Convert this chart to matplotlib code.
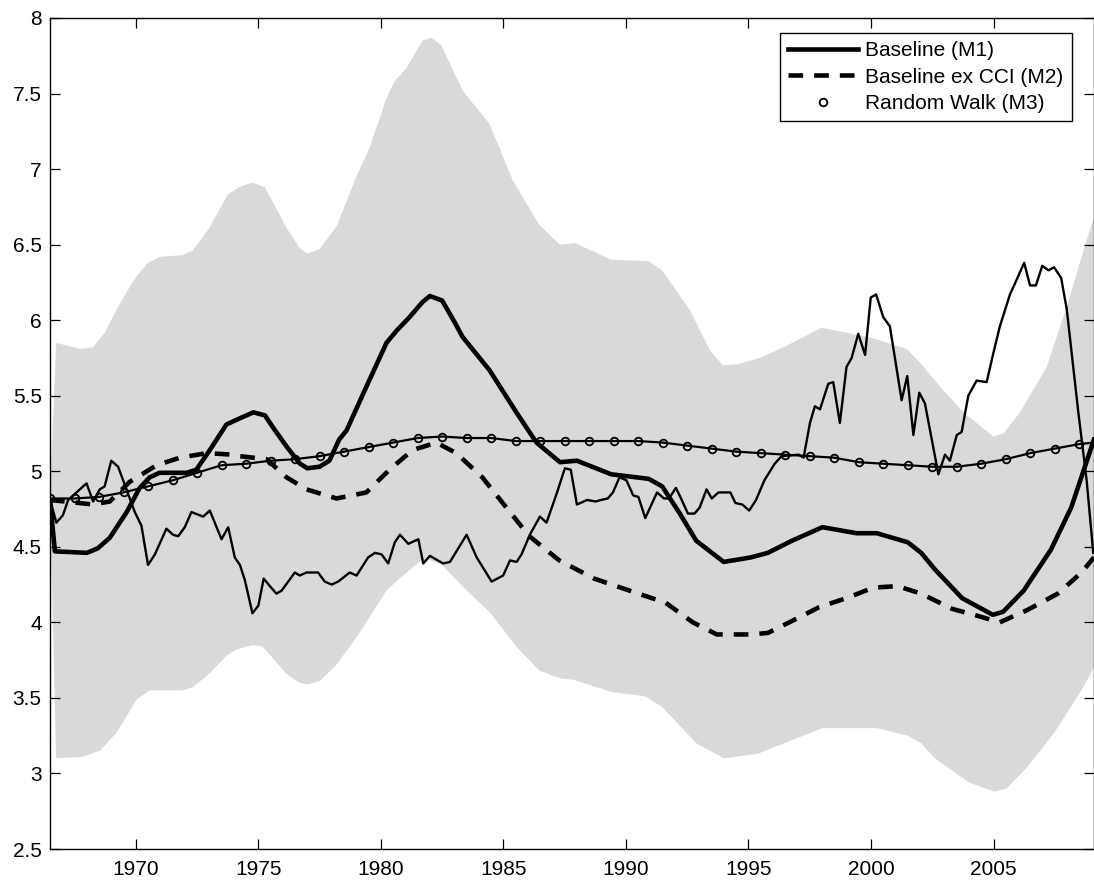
import matplotlib
matplotlib.use("Agg")
import matplotlib.pyplot as plt
import numpy as np

# ---------------- data ----------------
band_upper_t = [1966.50, 1966.75, 1967.25, 1967.75, 1968.25, 1968.75, 1969.25, 1969.75,
                1970.08, 1970.5, 1971.0, 1971.9, 1972.32, 1973.0, 1973.75, 1974.2, 1974.77,
                1975.26, 1975.7, 1976.15, 1976.68, 1977.0, 1977.5, 1978.19, 1979.0, 1979.54,
                1980.23, 1980.56, 1981.05, 1981.7, 1982.06, 1982.47, 1983.33, 1984.43, 1985.37,
                1986.47, 1987.3, 1987.94, 1989.4, 1990.93, 1991.48, 1992.6, 1993.43, 1993.97,
                1994.6, 1995.47, 1996.42, 1997.99, 1998.6, 2000.1, 2001.46, 2002.0, 2002.82,
                2003.77, 2004.99, 2005.4, 2006.08, 2007.17, 2007.99, 2008.8, 2009.1]
band_upper_v = [4.82, 5.85, 5.83, 5.81, 5.82, 5.92, 6.08, 6.22,
                6.30, 6.38, 6.42, 6.43, 6.46, 6.61, 6.83, 6.88, 6.91,
                6.88, 6.75, 6.61, 6.48, 6.44, 6.47, 6.62, 6.95, 7.14,
                7.47, 7.58, 7.67, 7.85, 7.87, 7.82, 7.52, 7.30, 6.93,
                6.63, 6.50, 6.51, 6.40, 6.39, 6.33, 6.07, 5.80, 5.70,
                5.71, 5.75, 5.82, 5.95, 5.93, 5.88, 5.81, 5.72, 5.56,
                5.39, 5.23, 5.25, 5.39, 5.69, 6.09, 6.53, 6.68]

band_lower_t = [1966.50, 1966.75, 1967.83, 1968.53, 1969.22, 1970.04, 1970.57, 1971.91,
                1972.32, 1973.0, 1973.7, 1974.11, 1974.77, 1975.17, 1976.15, 1976.68, 1977.0,
                1977.5, 1978.19, 1979.13, 1980.23, 1980.76, 1981.57, 1981.9, 1982.5, 1983.5,
                1984.43, 1985.53, 1986.47, 1987.31, 1987.87, 1989.4, 1990.79, 1991.48, 1992.87,
                1993.99, 1995.38, 1996.77, 1998.02, 1999.83, 2000.24, 2001.5, 2002.05, 2002.61,
                2004.0, 2005.04, 2005.53, 2006.36, 2007.48, 2008.59, 2009.1]
band_lower_v = [4.80, 3.10, 3.11, 3.15, 3.27, 3.49, 3.55, 3.55,
                3.57, 3.66, 3.78, 3.82, 3.85, 3.84, 3.66, 3.60, 3.59,
                3.61, 3.72, 3.93, 4.21, 4.29, 4.40, 4.42, 4.38, 4.21,
                4.07, 3.84, 3.68, 3.63, 3.62, 3.54, 3.51, 3.44, 3.20,
                3.10, 3.13, 3.22, 3.30, 3.30, 3.30, 3.25, 3.20, 3.10,
                2.94, 2.88, 2.90, 3.04, 3.27, 3.55, 3.70]

actual_t = [1966.49, 1966.76, 1967.03, 1967.24, 1967.99, 1968.26, 1968.53, 1968.73, 1969.0,
            1969.28, 1969.62, 1969.96, 1970.23, 1970.5, 1970.78, 1971.25, 1971.52, 1971.73,
            1972.0, 1972.27, 1972.75, 1973.02, 1973.5, 1973.77, 1974.04, 1974.25, 1974.45,
            1974.76, 1975.0, 1975.22, 1975.47, 1975.74, 1975.95, 1976.49, 1976.69, 1976.97,
            1977.17, 1977.44, 1977.71, 1977.99, 1978.26, 1978.73, 1979.01, 1979.48, 1979.76,
            1980.03, 1980.3, 1980.57, 1980.78, 1981.12, 1981.53, 1981.73, 1982.0, 1982.54,
            1982.82, 1983.5, 1983.91, 1984.52, 1984.99, 1985.27, 1985.54, 1985.74, 1986.08,
            1986.49, 1986.76, 1987.17, 1987.51, 1987.75, 1988.0, 1988.42, 1988.77, 1988.98,
            1989.26, 1989.47, 1989.74, 1990.02, 1990.3, 1990.51, 1990.79, 1991.27, 1991.55,
            1991.76, 1992.04, 1992.25, 1992.53, 1992.8, 1993.01, 1993.29, 1993.5, 1993.78,
            1994.26, 1994.47, 1994.75, 1995.03, 1995.31, 1995.65, 1996.07, 1996.35, 1997.05,
            1997.25, 1997.51, 1997.71, 1997.92, 1998.26, 1998.46, 1998.73, 1999.0, 1999.21,
            1999.48, 1999.76, 1999.99, 2000.21, 2000.5, 2000.77, 2001.25, 2001.48, 2001.73,
            2001.97, 2002.2, 2002.75, 2003.02, 2003.22, 2003.5, 2003.7, 2003.97, 2004.31,
            2004.72, 2004.99, 2005.26, 2005.67, 2005.95, 2006.25, 2006.49, 2006.73, 2006.99,
            2007.24, 2007.47, 2007.76, 2007.99, 2008.46, 2008.8, 2009.07]
actual_v = [4.82, 4.66, 4.71, 4.81, 4.92, 4.80, 4.88, 4.90, 5.07,
            5.03, 4.88, 4.73, 4.64, 4.38, 4.45, 4.62, 4.58, 4.57,
            4.63, 4.73, 4.70, 4.74, 4.55, 4.63, 4.43, 4.38, 4.28,
            4.06, 4.11, 4.29, 4.24, 4.19, 4.21, 4.33, 4.31, 4.33,
            4.33, 4.33, 4.27, 4.25, 4.27, 4.33, 4.31, 4.43, 4.46,
            4.45, 4.39, 4.53, 4.58, 4.52, 4.55, 4.39, 4.44, 4.39,
            4.40, 4.58, 4.43, 4.27, 4.31, 4.41, 4.40, 4.45, 4.58,
            4.70, 4.66, 4.85, 5.02, 5.01, 4.78, 4.81, 4.80, 4.81,
            4.82, 4.86, 4.96, 4.94, 4.84, 4.83, 4.69, 4.86, 4.82,
            4.82, 4.89, 4.82, 4.72, 4.72, 4.76, 4.88, 4.82, 4.86,
            4.86, 4.79, 4.78, 4.74, 4.81, 4.94, 5.05, 5.10, 5.11,
            5.09, 5.32, 5.43, 5.41, 5.58, 5.59, 5.32, 5.69, 5.75,
            5.91, 5.77, 6.15, 6.17, 6.02, 5.96, 5.47, 5.63, 5.24,
            5.52, 5.45, 4.98, 5.11, 5.07, 5.24, 5.26, 5.50, 5.60,
            5.59, 5.78, 5.96, 6.17, 6.27, 6.38, 6.23, 6.23, 6.36,
            6.33, 6.35, 6.28, 6.07, 5.39, 4.94, 4.46]

m1_t = [1966.5, 1966.7, 1968.0, 1968.45, 1968.94, 1969.63, 1970.16, 1970.57, 1970.97,
        1972.08, 1972.47, 1973.02, 1973.7, 1974.24, 1974.8, 1975.27, 1975.6, 1976.17,
        1976.7, 1977.0, 1977.5, 1977.9, 1978.3, 1978.6, 1979.41, 1980.23, 1980.64,
        1981.17, 1981.7, 1982.0, 1982.5, 1983.0, 1983.33, 1984.43, 1985.53, 1986.35, 1987.31,
        1988.0, 1989.4, 1990.93, 1991.48, 1992.2, 1992.87, 1993.99, 1995.1, 1995.79, 1996.77,
        1998.02, 1999.41, 2000.24, 2001.5, 2002.05, 2002.61, 2003.72, 2004.97, 2005.39,
        2006.23, 2007.34, 2008.17, 2009.1]
m1_v = [4.81, 4.47, 4.46, 4.49, 4.56, 4.73, 4.89, 4.96, 4.99,
        4.99, 5.01, 5.14, 5.31, 5.35, 5.39, 5.37, 5.29, 5.16,
        5.05, 5.02, 5.03, 5.07, 5.21, 5.27, 5.56, 5.85, 5.93,
        6.02, 6.12, 6.16, 6.13, 5.99, 5.89, 5.67, 5.39, 5.19, 5.06,
        5.07, 4.98, 4.95, 4.90, 4.72, 4.54, 4.40, 4.43, 4.46, 4.54,
        4.63, 4.59, 4.59, 4.53, 4.46, 4.35, 4.16, 4.05, 4.07,
        4.21, 4.48, 4.76, 5.21]

m2_t = [1966.5, 1967.7, 1968.24, 1968.94, 1969.75, 1970.85, 1971.8, 1972.9, 1973.96,
        1974.24, 1975.34, 1976.15, 1976.97, 1978.19, 1979.41, 1980.35, 1981.29, 1982.27,
        1983.08, 1984.14, 1985.12, 1986.06, 1987.28, 1988.7, 1990.51, 1991.62, 1992.73,
        1993.71, 1995.1, 1995.79, 1996.91, 1997.88, 1998.99, 2000.1, 2001.08, 2002.05,
        2003.3, 2004.42, 2005.25, 2006.36, 2007.62, 2008.59, 2009.1]
m2_v = [4.81, 4.79, 4.78, 4.80, 4.93, 5.04, 5.09, 5.12, 5.11,
        5.10, 5.08, 4.96, 4.88, 4.82, 4.86, 5.01, 5.14, 5.19,
        5.12, 4.96, 4.76, 4.57, 4.41, 4.29, 4.19, 4.13, 4.00,
        3.92, 3.92, 3.93, 4.02, 4.10, 4.16, 4.23, 4.24, 4.19,
        4.09, 4.04, 4.00, 4.08, 4.19, 4.33, 4.43]

m3_t = [1966.5, 1967.5, 1968.5, 1969.5, 1970.5, 1971.5, 1972.5, 1973.5, 1974.5, 1975.5,
        1976.5, 1977.5, 1978.5, 1979.5, 1980.5, 1981.5, 1982.5, 1983.5, 1984.5, 1985.5,
        1986.5, 1987.5, 1988.5, 1989.5, 1990.5, 1991.5, 1992.5, 1993.5, 1994.5, 1995.5,
        1996.5, 1997.5, 1998.5, 1999.5, 2000.5, 2001.5, 2002.5, 2003.5, 2004.5, 2005.5,
        2006.5, 2007.5, 2008.5, 2009.1]
m3_v = [4.82, 4.82, 4.83, 4.86, 4.90, 4.94, 4.99, 5.04, 5.05, 5.07,
        5.08, 5.10, 5.13, 5.16, 5.19, 5.22, 5.23, 5.22, 5.22, 5.20,
        5.20, 5.20, 5.20, 5.20, 5.20, 5.19, 5.17, 5.15, 5.13, 5.12,
        5.11, 5.10, 5.09, 5.06, 5.05, 5.04, 5.03, 5.03, 5.05, 5.08,
        5.12, 5.15, 5.18, 5.19]

labels = ["Baseline (M1)", "Baseline ex CCI (M2)", "Random Walk (M3)"]
x_ticks = [1970, 1975, 1980, 1985, 1990, 1995, 2000, 2005]
y_ticks = [2.5, 3, 3.5, 4, 4.5, 5, 5.5, 6, 6.5, 7, 7.5, 8]
y_ticklabels = ["2.5", "3", "3.5", "4", "4.5", "5", "5.5", "6", "6.5", "7", "7.5", "8"]

# ---------------- plot ----------------
plt.rcParams['font.family'] = ['Liberation Sans', 'DejaVu Sans']
FS = 15

W, H = 1094, 880
fig = plt.figure(figsize=(W / 100, H / 100), dpi=100)
ax = fig.add_axes([50 / W, 31 / H, 1044 / W, 831 / H])

poly_x = list(band_upper_t) + list(band_lower_t[::-1])
poly_y = list(band_upper_v) + list(band_lower_v[::-1])
ax.fill(poly_x, poly_y, color='#d9d9d9', lw=0, zorder=1)

ax.plot(actual_t, actual_v, color='black', lw=1.7, zorder=3)
l1, = ax.plot(m1_t, m1_v, color='black', lw=3.3, zorder=4, solid_joinstyle='round')
l2, = ax.plot(m2_t, m2_v, color='black', lw=3.3, dashes=(3.2, 2.4), zorder=4)
ax.plot(m3_t, m3_v, color='black', lw=1.6, zorder=5)
ax.plot(m3_t[:-1], m3_v[:-1], ls='none', marker='o', ms=5.5, mfc='none',
        mec='black', mew=1.3, zorder=6)
l3, = ax.plot([], [], ls='none', marker='o', ms=5.5, mfc='none', mec='black', mew=1.3)

ax.set_xlim(1966.5, 2009.1)
ax.set_ylim(2.5, 8)
ax.set_xticks(x_ticks)
ax.set_yticks(y_ticks)
ax.set_yticklabels(y_ticklabels)
ax.tick_params(direction='in', length=7, width=0.9, top=True, right=True,
               labelsize=FS, colors='black')
ax.tick_params(axis='x', pad=8)
ax.tick_params(axis='y', pad=6)
for s in ax.spines.values():
    s.set_linewidth(1.0)
    s.set_color('black')

leg = ax.legend([l1, l2, l3], labels, loc='upper right',
                bbox_to_anchor=((1072 - 50) / 1044, (849 - 33) / 831),
                borderaxespad=0, fontsize=FS, handlelength=3.37, handletextpad=0.34,
                labelspacing=0.35, borderpad=0.4, fancybox=False, framealpha=1,
                edgecolor='black')
leg.get_frame().set_linewidth(1.0)

fig.savefig('out.png', dpi=100)
